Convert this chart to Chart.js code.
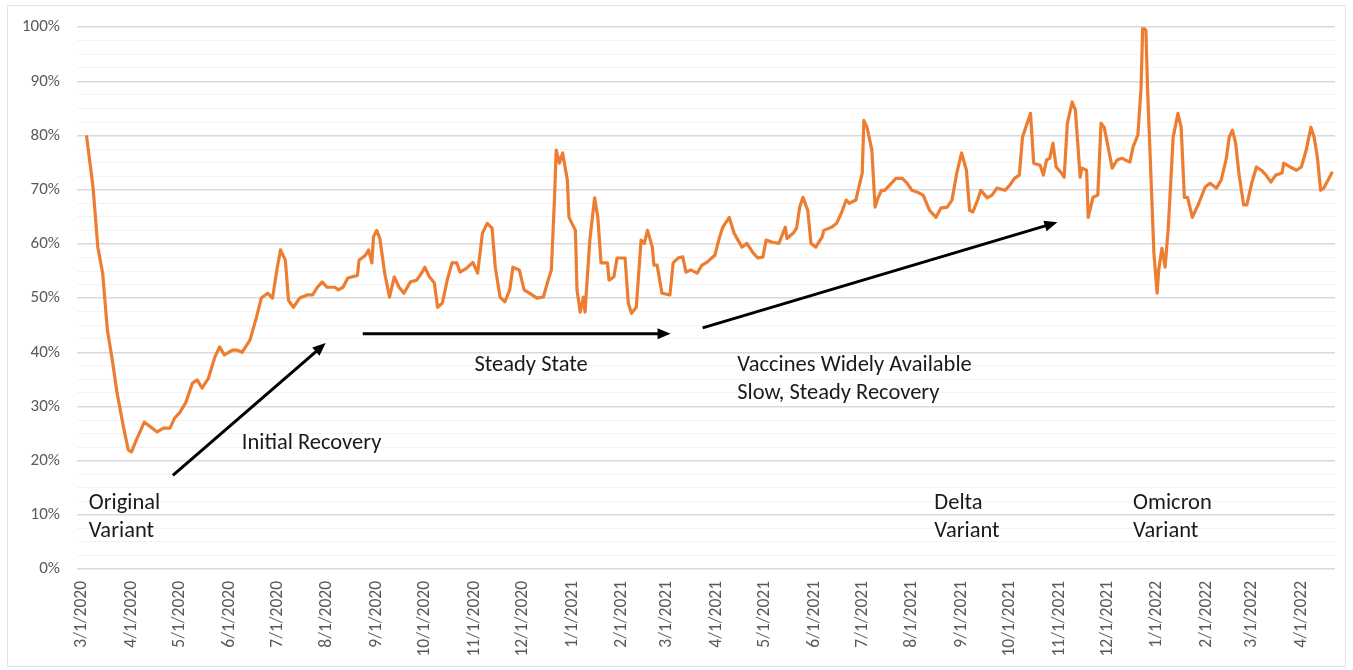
<!DOCTYPE html>
<html>
<head>
<meta charset="utf-8">
<script src="https://cdn.jsdelivr.net/npm/chart.js@4.4.1/dist/chart.umd.min.js"></script>
<style>
  html, body { margin: 0; padding: 0; background: #fff; }
  #wrap { position: relative; width: 1353px; height: 670px; }
</style>
</head>
<body>
<div id="wrap"><canvas id="chart"></canvas></div>
<script>
// tick labels on the date axis (first of each month)
const monthLabels = [
  '3/1/2020', '4/1/2020', '5/1/2020', '6/1/2020', '7/1/2020', '8/1/2020', '9/1/2020',
  '10/1/2020', '11/1/2020', '12/1/2020', '1/1/2021', '2/1/2021', '3/1/2021', '4/1/2021',
  '5/1/2021', '6/1/2021', '7/1/2021', '8/1/2021', '9/1/2021', '10/1/2021', '11/1/2021',
  '12/1/2021', '1/1/2022', '2/1/2022', '3/1/2022', '4/1/2022'
];

// days since 3/1/2020
const days = [
  3, 7, 10, 13, 16, 19, 22, 26, 29, 31, 34, 39, 44, 47, 51, 55, 58, 61, 65, 69,
  72, 75, 79, 83, 86, 89, 94, 97, 100, 105, 109, 112, 116, 119, 122, 124, 127, 129, 132, 135,
  136, 141, 144, 147, 150, 153, 158, 160, 163, 166, 172, 173, 177, 179, 181, 182, 184, 186, 189, 192,
  195, 198, 201, 205, 209, 212, 214, 217, 220, 222, 225, 228, 231, 234, 236, 240, 244, 247, 250, 253,
  256, 258, 261, 264, 267, 269, 273, 276, 281, 284, 288, 291, 293, 295, 296, 298, 300, 303, 304, 308,
  309, 311, 313, 314, 317, 320, 322, 324, 328, 329, 332, 334, 339, 341, 343, 346, 349, 351, 353, 356,
  357, 359, 362, 367, 369, 372, 375, 377, 380, 384, 387, 390, 395, 398,
  400, 404, 407, 412, 415, 419, 422, 425, 427, 431, 435, 439, 440, 444, 446, 448, 450, 453, 455, 458,
  462, 463, 468, 471, 474, 477, 479, 483, 487, 488, 490, 493, 495, 497, 499, 501, 504, 508, 512, 515,
  518, 521, 525,
  529, 533, 536, 540, 543, 546, 549, 552, 554, 556, 559, 561, 565, 568, 571, 576, 579, 582, 585, 587,
  589, 592, 594, 598, 600, 602, 604, 606, 608, 611, 613, 615, 618, 620, 623, 624, 627, 628, 631, 634,
  636, 638, 643, 646, 649, 654, 656, 659,
  661, 662, 664, 665, 667, 669, 671, 672, 674, 676, 678, 681, 684, 686, 688, 690, 693, 697, 701, 704,
  708, 711, 714, 716, 718, 720, 722, 725, 727, 730, 733, 736, 739, 742, 745, 749, 750, 754, 758, 761,
  764, 767, 769, 771, 773, 775, 780
];

// share (%)
const values = [
  79.8, 70.5, 59.4, 54.6, 44.0, 38.6, 32.5, 26.2, 22.0, 21.6, 23.8, 27.1, 26.0, 25.3, 26.0, 26.0, 27.9, 28.8, 30.8, 34.3,
  34.9, 33.4, 35.2, 39.1, 41.0, 39.5, 40.4, 40.4, 40.0, 42.3, 46.5, 50.0, 50.9, 50.0, 55.7, 58.9, 57.0, 49.6, 48.3, 49.6,
  50.0, 50.6, 50.6, 52.0, 53.0, 52.0, 52.0, 51.5, 52.0, 53.7, 54.2, 57.0, 57.9, 58.9, 56.5, 61.3, 62.5, 61.0, 54.6, 50.2,
  53.9, 52.0, 50.9, 53.0, 53.3, 54.6, 55.7, 53.9, 52.8, 48.3, 49.1, 53.3, 56.5, 56.5, 54.8, 55.5, 56.6, 54.6, 62.0, 63.8,
  62.9, 55.7, 50.2, 49.3, 51.5, 55.7, 55.2, 51.5, 50.6, 50.0, 50.2, 53.3, 55.2, 68.6, 77.3, 74.9, 76.8, 71.8, 64.9, 62.5,
  51.5, 47.4, 50.2, 47.4, 60.7, 68.5, 64.9, 56.5, 56.5, 53.3, 53.9, 57.4, 57.4, 49.1, 47.2, 48.3, 60.7, 60.1, 62.5, 59.4,
  56.1, 56.1, 50.9, 50.6, 56.5, 57.4, 57.6, 54.8, 55.2, 54.6, 56.1, 56.6, 57.9, 61.3,
  63.1, 64.9, 62.0, 59.4, 60.1, 58.3, 57.4, 57.6, 60.7, 60.3, 60.1, 63.1, 61.0, 62.0, 62.9, 66.8, 68.6, 66.2, 60.1, 59.4,
  61.3, 62.5, 63.1, 63.8, 65.7, 68.1, 67.5, 68.1, 73.1, 82.8, 81.5, 77.3, 66.8, 68.6, 69.9, 69.9, 70.8, 72.1, 72.1, 71.2,
  69.9, 69.6, 69.0,
  66.2, 64.9, 66.6, 66.8, 68.1, 73.1, 76.8, 73.6, 66.2, 65.9, 68.1, 69.9, 68.5, 69.0, 70.3, 69.9, 70.8, 72.1, 72.7, 79.7,
  81.5, 84.1, 74.9, 74.5, 72.7, 75.5, 75.8, 78.6, 74.2, 73.2, 72.3, 82.3, 86.2, 84.7, 72.3, 74.0, 73.6, 64.9, 68.6, 69.0,
  82.3, 81.5, 74.0, 75.5, 75.8, 75.1, 77.9, 80.1,
  88.9, 100.0, 99.4, 88.9, 73.6, 58.3, 50.9, 55.2, 59.2, 55.7, 63.1, 79.7, 84.1, 81.5, 68.6, 68.6, 64.9, 67.5, 70.5, 71.2,
  70.3, 71.8, 75.5, 79.7, 81.0, 78.6, 73.1, 67.2, 67.2, 71.2, 74.2, 73.6, 72.7, 71.4, 72.7, 73.1, 74.9, 74.2, 73.6, 74.2,
  77.3, 81.5, 79.7, 76.0, 69.9, 70.3, 73.1
];

// y axis: labelled every 10 %, faint lines every 2.5 %
const yTicks = [];
for (let v = 0; v <= 100; v += 2.5) yTicks.push(v);

// text and arrows drawn on the plot (in day / % coordinates)
const notes = [
  { lines: ['Original', 'Variant'], day: 4.4, pct: 12.2 },
  { lines: ['Initial Recovery'], day: 99.8, pct: 23.2 },
  { lines: ['Steady State'], day: 245, pct: 37.5 },
  { lines: ['Vaccines Widely Available', 'Slow, Steady Recovery'], day: 409, pct: 37.5 },
  { lines: ['Delta', 'Variant'], day: 532, pct: 12.2 },
  { lines: ['Omicron', 'Variant'], day: 656, pct: 12.2 }
];
const arrows = [
  { from: [56.8, 17.3], to: [152.2, 41.7] },
  { from: [175.3, 43.4], to: [367.4, 43.4] },
  { from: [387.4, 44.5], to: [608.8, 64.0] }
];

const FONT = 'Carlito, Lato, "Open Sans", sans-serif';

const dayOf = s => {
  const [m, d, y] = s.split('/').map(Number);
  return Math.round((Date.UTC(y, m - 1, d) - Date.UTC(2020, 2, 1)) / 86400000);
};
const monthDays = monthLabels.map(dayOf);

const annotate = {
  id: 'annotate',
  beforeDraw(chart) {
    const ctx = chart.ctx;
    ctx.save();
    ctx.strokeStyle = '#e3e3e3';
    ctx.lineWidth = 1;
    ctx.strokeRect(7.5, 5.5, 1338, 661);
    ctx.restore();
  },
  afterDatasetsDraw(chart) {
    const { ctx, scales: { x, y } } = chart;
    ctx.save();
    ctx.strokeStyle = '#000';
    ctx.fillStyle = '#000';
    ctx.lineWidth = 3;
    arrows.forEach(a => {
      const x1 = x.getPixelForValue(a.from[0]), y1 = y.getPixelForValue(a.from[1]);
      const x2 = x.getPixelForValue(a.to[0]), y2 = y.getPixelForValue(a.to[1]);
      const ang = Math.atan2(y2 - y1, x2 - x1);
      const len = 13, half = 5.5;
      ctx.beginPath();
      ctx.moveTo(x1, y1);
      ctx.lineTo(x2 - Math.cos(ang) * (len - 2), y2 - Math.sin(ang) * (len - 2));
      ctx.stroke();
      ctx.beginPath();
      ctx.moveTo(x2, y2);
      ctx.lineTo(x2 - Math.cos(ang) * len - Math.sin(ang) * half, y2 - Math.sin(ang) * len + Math.cos(ang) * half);
      ctx.lineTo(x2 - Math.cos(ang) * len + Math.sin(ang) * half, y2 - Math.sin(ang) * len - Math.cos(ang) * half);
      ctx.closePath();
      ctx.fill();
    });

    ctx.fillStyle = '#1a1a1a';
    ctx.font = '22.5px ' + FONT;
    ctx.textAlign = 'left';
    ctx.textBaseline = 'middle';
    notes.forEach(n => {
      const px = x.getPixelForValue(n.day), py = y.getPixelForValue(n.pct);
      n.lines.forEach((t, i) => ctx.fillText(t, px, py + i * 28));
    });
    ctx.restore();
  }
};

new Chart(document.getElementById('chart'), {
  type: 'line',
  data: {
    datasets: [{
      data: days.map((d, i) => ({ x: d, y: values[i] })),
      borderColor: '#ED7D31',
      borderWidth: 3.2,
      borderJoinStyle: 'round',
      borderCapStyle: 'round',
      pointRadius: 0,
      tension: 0,
      fill: false
    }]
  },
  options: {
    responsive: true,
    maintainAspectRatio: false,
    animation: false,
    layout: { padding: { top: 27, right: 18, bottom: 0, left: 0 } },
    plugins: { legend: { display: false }, tooltip: { enabled: false } },
    scales: {
      x: {
        type: 'linear',
        min: -3,
        max: 782,
        afterBuildTicks: s => { s.ticks = monthDays.map(v => ({ value: v })); },
        afterFit: s => { s.height = 101; },
        grid: { display: false, drawTicks: false },
        border: { display: false },
        ticks: {
          autoSkip: false,
          minRotation: 90,
          maxRotation: 90,
          padding: 12,
          color: '#595959',
          font: { family: FONT, size: 17.5 },
          callback: (v, i) => monthLabels[i]
        }
      },
      y: {
        min: 0,
        max: 100,
        afterBuildTicks: s => { s.ticks = yTicks.map(v => ({ value: v })); },
        afterFit: s => { s.width = 77; },
        grid: {
          drawTicks: false,
          color: c => (c.tick && c.tick.value % 10 === 0) ? '#d9d9d9' : '#f3f3f3',
          lineWidth: c => (c.tick && c.tick.value % 10 === 0) ? 1.5 : 1
        },
        border: { display: false },
        ticks: {
          autoSkip: false,
          padding: 17,
          color: '#595959',
          font: { family: FONT, size: 17 },
          callback: v => (v % 10 === 0 ? v + '%' : '')
        }
      }
    }
  },
  plugins: [annotate]
});
</script>
</body>
</html>
